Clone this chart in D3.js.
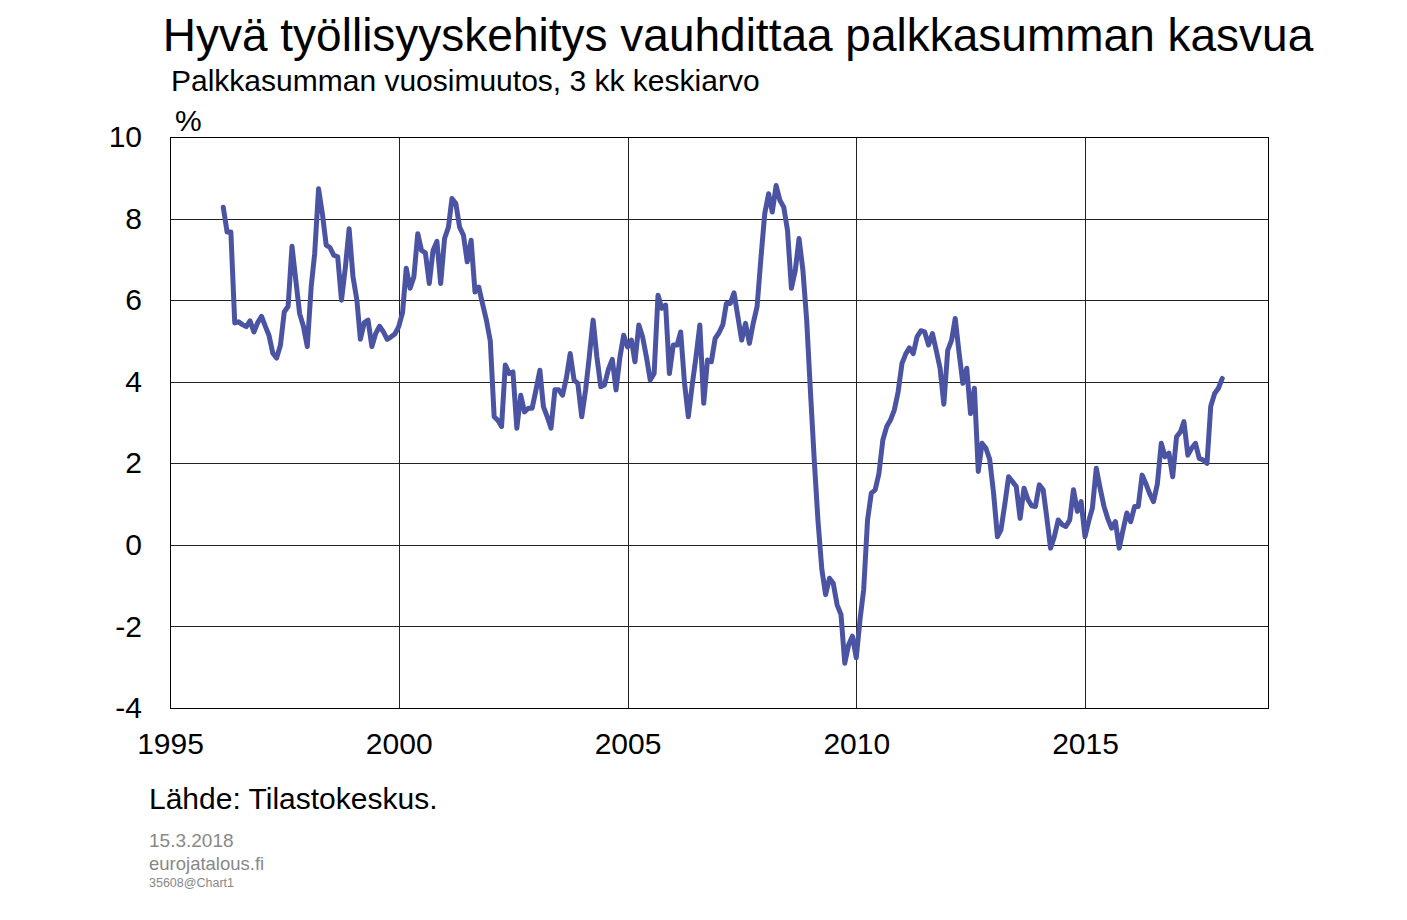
<!DOCTYPE html>
<html>
<head>
<meta charset="utf-8">
<script src="https://cdn.jsdelivr.net/npm/d3@7"></script>
<style>
  html, body { margin: 0; padding: 0; background: #fff; }
  svg { display: block; font-family: Arial, "Liberation Sans", sans-serif; }
</style>
</head>
<body>
<svg id="chart" width="1407" height="920"></svg>
<script>
// ---- Data ----
const startMonth = "1996-03"; // first observation (monthly series)
const values = [
  8.28, 7.67, 7.67, 5.44, 5.47, 5.40, 5.35, 5.49, 5.22, 5.45,            // 1996 Mar-Dec
  5.60, 5.35, 5.14, 4.70, 4.58, 4.90, 5.71, 5.85, 7.32, 6.50, 5.67, 5.36, // 1997
  4.86, 6.32, 7.14, 8.73, 8.13, 7.35, 7.29, 7.10, 7.06, 6.00, 6.80, 7.75, // 1998
  6.57, 6.00, 5.04, 5.45, 5.51, 4.86, 5.18, 5.36, 5.22, 5.04, 5.10, 5.17, // 1999
  5.35, 5.70, 6.78, 6.29, 6.57, 7.63, 7.22, 7.16, 6.41, 7.22, 7.44, 6.41, // 2000
  7.51, 7.79, 8.49, 8.37, 7.79, 7.59, 6.94, 7.47, 6.20, 6.32, 5.90, 5.51, // 2001
  5.00, 3.14, 3.06, 2.90, 4.41, 4.20, 4.24, 2.86, 3.67, 3.26, 3.35, 3.35, // 2002
  3.80, 4.28, 3.39, 3.14, 2.86, 3.80, 3.80, 3.67, 4.10, 4.69, 4.04, 3.96, // 2003
  3.14, 3.80, 4.60, 5.51, 4.61, 3.88, 3.92, 4.30, 4.55, 3.80, 4.60, 5.14, // 2004
  4.85, 5.02, 4.49, 5.39, 5.10, 4.60, 4.04, 4.20, 6.12, 5.80, 5.88, 4.20, // 2005
  4.90, 4.90, 5.22, 3.96, 3.14, 3.92, 4.60, 5.39, 3.47, 4.53, 4.49, 5.06, // 2006
  5.20, 5.40, 5.92, 5.92, 6.18, 5.59, 5.02, 5.43, 4.94, 5.43, 5.84, 7.00, // 2007
  8.12, 8.61, 8.16, 8.81, 8.45, 8.28, 7.71, 6.29, 6.73, 7.51, 6.73, 5.51, // 2008
  3.71, 2.00, 0.60, -0.60, -1.22, -0.82, -0.94, -1.47, -1.71, -2.90, -2.45, -2.24, // 2009
  -2.77, -1.80, -1.10, 0.61, 1.27, 1.35, 1.75, 2.57, 2.90, 3.06, 3.31, 3.75, // 2010
  4.45, 4.69, 4.83, 4.69, 5.10, 5.25, 5.22, 4.90, 5.18, 4.77, 4.33, 3.45, // 2011
  4.77, 5.02, 5.55, 4.70, 3.96, 4.33, 3.22, 3.84, 1.80, 2.49, 2.37, 2.10, // 2012
  1.27, 0.20, 0.37, 1.00, 1.67, 1.55, 1.43, 0.65, 1.39, 1.12, 0.96, 0.94, // 2013
  1.47, 1.35, 0.69, -0.08, 0.20, 0.61, 0.50, 0.45, 0.61, 1.35, 0.82, 1.06, // 2014
  0.20, 0.60, 0.90, 1.88, 1.40, 0.95, 0.65, 0.41, 0.57, -0.08, 0.37, 0.78, // 2015
  0.57, 0.94, 0.94, 1.71, 1.50, 1.25, 1.06, 1.50, 2.49, 2.16, 2.25, 1.67, // 2016
  2.65, 2.77, 3.02, 2.20, 2.37, 2.49, 2.12, 2.08, 2.00, 3.40, 3.71, 3.84, // 2017
  4.08                                                                     // 2018 Jan
];
const yTicks = [-4, -2, 0, 2, 4, 6, 8, 10];
const xTickYears = [1995, 2000, 2005, 2010, 2015];
const titleText = "Hyvä työllisyyskehitys vauhdittaa palkkasumman kasvua";
const subtitleText = "Palkkasumman vuosimuutos, 3 kk keskiarvo";
const unitText = "%";
const sourceText = "Lähde: Tilastokeskus.";
const footerLines = ["15.3.2018", "eurojatalous.fi", "35608@Chart1"];

// ---- Build series ----
const parseMonth = d3.timeParse("%Y-%m");
const t0 = parseMonth(startMonth);
const series = values.map((v, i) => ({ date: d3.timeMonth.offset(t0, i), value: v }));

// ---- Layout ----
const svg = d3.select("#chart");
const plot = { left: 170, right: 1268, top: 137, bottom: 708 };
const FONT = "Arial, 'Liberation Sans', sans-serif";

const x = d3.scaleTime()
  .domain([new Date(1995, 0, 1), new Date(2019, 0, 1)])
  .range([plot.left, plot.right]);
const y = d3.scaleLinear()
  .domain([-4, 10])
  .range([plot.bottom, plot.top]);

// Title & subtitle
svg.append("text")
  .attr("x", 738).attr("y", 51)
  .attr("text-anchor", "middle")
  .attr("font-size", 46)
  .attr("fill", "#000")
  .text(titleText);
svg.append("text")
  .attr("x", 171).attr("y", 91)
  .attr("font-size", 30)
  .attr("fill", "#000")
  .text(subtitleText);
svg.append("text")
  .attr("x", 175).attr("y", 131)
  .attr("font-size", 30)
  .attr("fill", "#000")
  .text(unitText);

// Gridlines (horizontal)
const gridG = svg.append("g");
gridG.selectAll("line.h")
  .data(yTicks)
  .join("line")
  .attr("x1", plot.left).attr("x2", plot.right)
  .attr("y1", d => Math.round(y(d)) + 0.5).attr("y2", d => Math.round(y(d)) + 0.5)
  .attr("stroke", "#222").attr("stroke-width", 1);
// Gridlines (vertical)
gridG.selectAll("line.v")
  .data(xTickYears)
  .join("line")
  .attr("x1", d => Math.round(x(new Date(d, 0, 1))) + 0.5)
  .attr("x2", d => Math.round(x(new Date(d, 0, 1))) + 0.5)
  .attr("y1", plot.top).attr("y2", plot.bottom)
  .attr("stroke", "#222").attr("stroke-width", 1);

// Frame
svg.append("rect")
  .attr("x", plot.left + 0.5).attr("y", plot.top + 0.5)
  .attr("width", plot.right - plot.left).attr("height", plot.bottom - plot.top)
  .attr("fill", "none").attr("stroke", "#000").attr("stroke-width", 1);

// Y axis labels (plain hyphen for negatives, as in the original)
const yAxis = d3.axisLeft(y).tickValues(yTicks).tickSize(0).tickPadding(28)
  .tickFormat(d => String(d));
const yG = svg.append("g").attr("transform", `translate(${plot.left},0)`).call(yAxis);
yG.select(".domain").remove();
yG.selectAll("text").attr("font-size", 30).attr("fill", "#000").attr("font-family", FONT);

// X axis labels
const xAxis = d3.axisBottom(x)
  .tickValues(xTickYears.map(yv => new Date(yv, 0, 1)))
  .tickSize(0).tickPadding(25)
  .tickFormat(d3.timeFormat("%Y"));
const xG = svg.append("g").attr("transform", `translate(0,${plot.bottom})`).call(xAxis);
xG.select(".domain").remove();
xG.selectAll("text").attr("font-size", 30).attr("fill", "#000").attr("font-family", FONT);

// Line
const line = d3.line().x(d => x(d.date)).y(d => y(d.value)).curve(d3.curveLinear);
svg.append("path")
  .datum(series)
  .attr("d", line)
  .attr("fill", "none")
  .attr("stroke", "#4b54a2")
  .attr("stroke-width", 5)
  .attr("stroke-linejoin", "round")
  .attr("stroke-linecap", "round");

// Source & footer
svg.append("text")
  .attr("x", 149).attr("y", 809)
  .attr("font-size", 30).attr("fill", "#000")
  .text(sourceText);
const footerSizes = [19, 18.5, 12.5];
const footerY = [847, 870, 887];
svg.selectAll("text.footer")
  .data(footerLines)
  .join("text")
  .attr("class", "footer")
  .attr("x", 149)
  .attr("y", (d, i) => footerY[i])
  .attr("font-size", (d, i) => footerSizes[i])
  .attr("fill", "#888")
  .text(d => d);
</script>
</body>
</html>
